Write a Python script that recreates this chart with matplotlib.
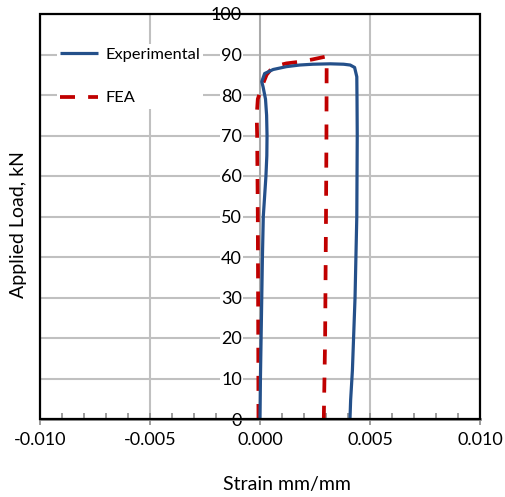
import matplotlib
matplotlib.use("Agg")
import matplotlib.pyplot as plt
from matplotlib.patches import Rectangle
from matplotlib.ticker import MultipleLocator

plt.rcParams["font.family"] = ["Lato", "DejaVu Sans"]

# measured strain (mm/mm) vs applied load (kN)
exp_strain = [0.0, 0.00002, 0.00005, 0.00008, 0.00011, 0.00015, 0.00021, 0.00027,
              0.00031, 0.00032, 0.00030, 0.00025, 0.00014, 0.00008, 0.00021, 0.0006,
              0.0012, 0.0018, 0.0024, 0.0032, 0.0038, 0.0041, 0.00430, 0.00440,
              0.00441, 0.00442, 0.00440, 0.00432, 0.00420, 0.00412, 0.00409]
exp_load = [0, 10, 20, 30, 40, 50, 55, 60,
            65, 70, 75, 79, 82, 83.3, 85.3, 86.3,
            87.0, 87.4, 87.6, 87.7, 87.6, 87.4, 86.8, 84.5,
            78.8, 70, 50, 30, 12, 4.7, 0]

# finite element prediction
fea_strain = [-0.00007, -0.00008, -0.00010, -0.00013, -0.00015, -0.00010, 0.00008,
              0.0003, 0.0006, 0.0012, 0.0018, 0.0024, 0.0030, 0.00303, 0.00302,
              0.00300, 0.00296, 0.0029]
fea_load = [0, 20, 50, 70, 75, 79, 82,
            85, 87, 87.8, 88.2, 88.8, 89.5, 88, 70,
            50, 20, 0]

x_ticks = [-0.010, -0.005, 0.0, 0.005, 0.010]
x_tick_labels = ["-0.010", "-0.005", "0.000", "0.005", "0.010"]
y_ticks = list(range(0, 101, 10))

fig = plt.figure(figsize=(5.05, 4.97), dpi=100)
ax = fig.add_axes([40 / 505, 78 / 497, 440 / 505, 405 / 497])

ax.set_xlim(-0.010, 0.010)
ax.set_ylim(0, 100)

ax.grid(True, which="major", color="#C0C0C0", lw=1.5, zorder=0)
ax.set_axisbelow(True)

ax.plot(exp_strain, exp_load, color="#24508A", lw=2.3, solid_capstyle="butt",
        solid_joinstyle="round", label="Experimental", zorder=4)
ax.plot(fea_strain, fea_load, color="#C00000", lw=2.7, linestyle=(0, (4, 3.5)),
        label="FEA", zorder=3)

# axes cross at the origin
for side in ["top", "right"]:
    ax.spines[side].set_visible(False)
ax.spines["left"].set_position(("data", 0))
ax.spines["left"].set_color("#A6A6A6")
ax.spines["left"].set_linewidth(1.2)
ax.spines["left"].set_zorder(1)
ax.spines["bottom"].set_color("#8C8C8C")
ax.spines["bottom"].set_linewidth(2.0)
ax.spines["bottom"].set_zorder(2)

ax.add_patch(Rectangle((0, 0), 1, 1, transform=ax.transAxes, fill=False,
                       ec="black", lw=1.6, zorder=5, clip_on=False))

ax.set_xticks(x_ticks)
ax.set_xticklabels(x_tick_labels)
ax.xaxis.set_minor_locator(MultipleLocator(0.001))
ax.set_yticks(y_ticks)

ax.tick_params(axis="x", which="major", direction="inout", length=9, width=1.2,
               color="#8C8C8C", labelsize=13, pad=5)
ax.tick_params(axis="x", which="minor", direction="in", length=4, width=1.2,
               color="#8C8C8C")
ax.tick_params(axis="y", which="major", direction="out", length=0, labelsize=13,
               pad=13)
for lab in ax.get_yticklabels():
    lab.set_bbox(dict(facecolor="white", edgecolor="none", pad=0.5))

ax.set_xlabel("Strain mm/mm", fontsize=14)
ax.xaxis.set_label_coords(0.561, -0.14)
ax.set_ylabel("Applied Load, kN", fontsize=14)
ax.yaxis.set_label_coords(-0.03, 0.479)

leg = ax.legend(loc="upper left", bbox_to_anchor=(0.038, 0.925), fontsize=11.8,
                frameon=True, fancybox=False, framealpha=1, edgecolor="none",
                handlelength=2.3, handletextpad=0.45, labelspacing=1.75,
                borderpad=0.2, borderaxespad=0)
leg.set_zorder(6)

fig.savefig("out.png", dpi=100)
